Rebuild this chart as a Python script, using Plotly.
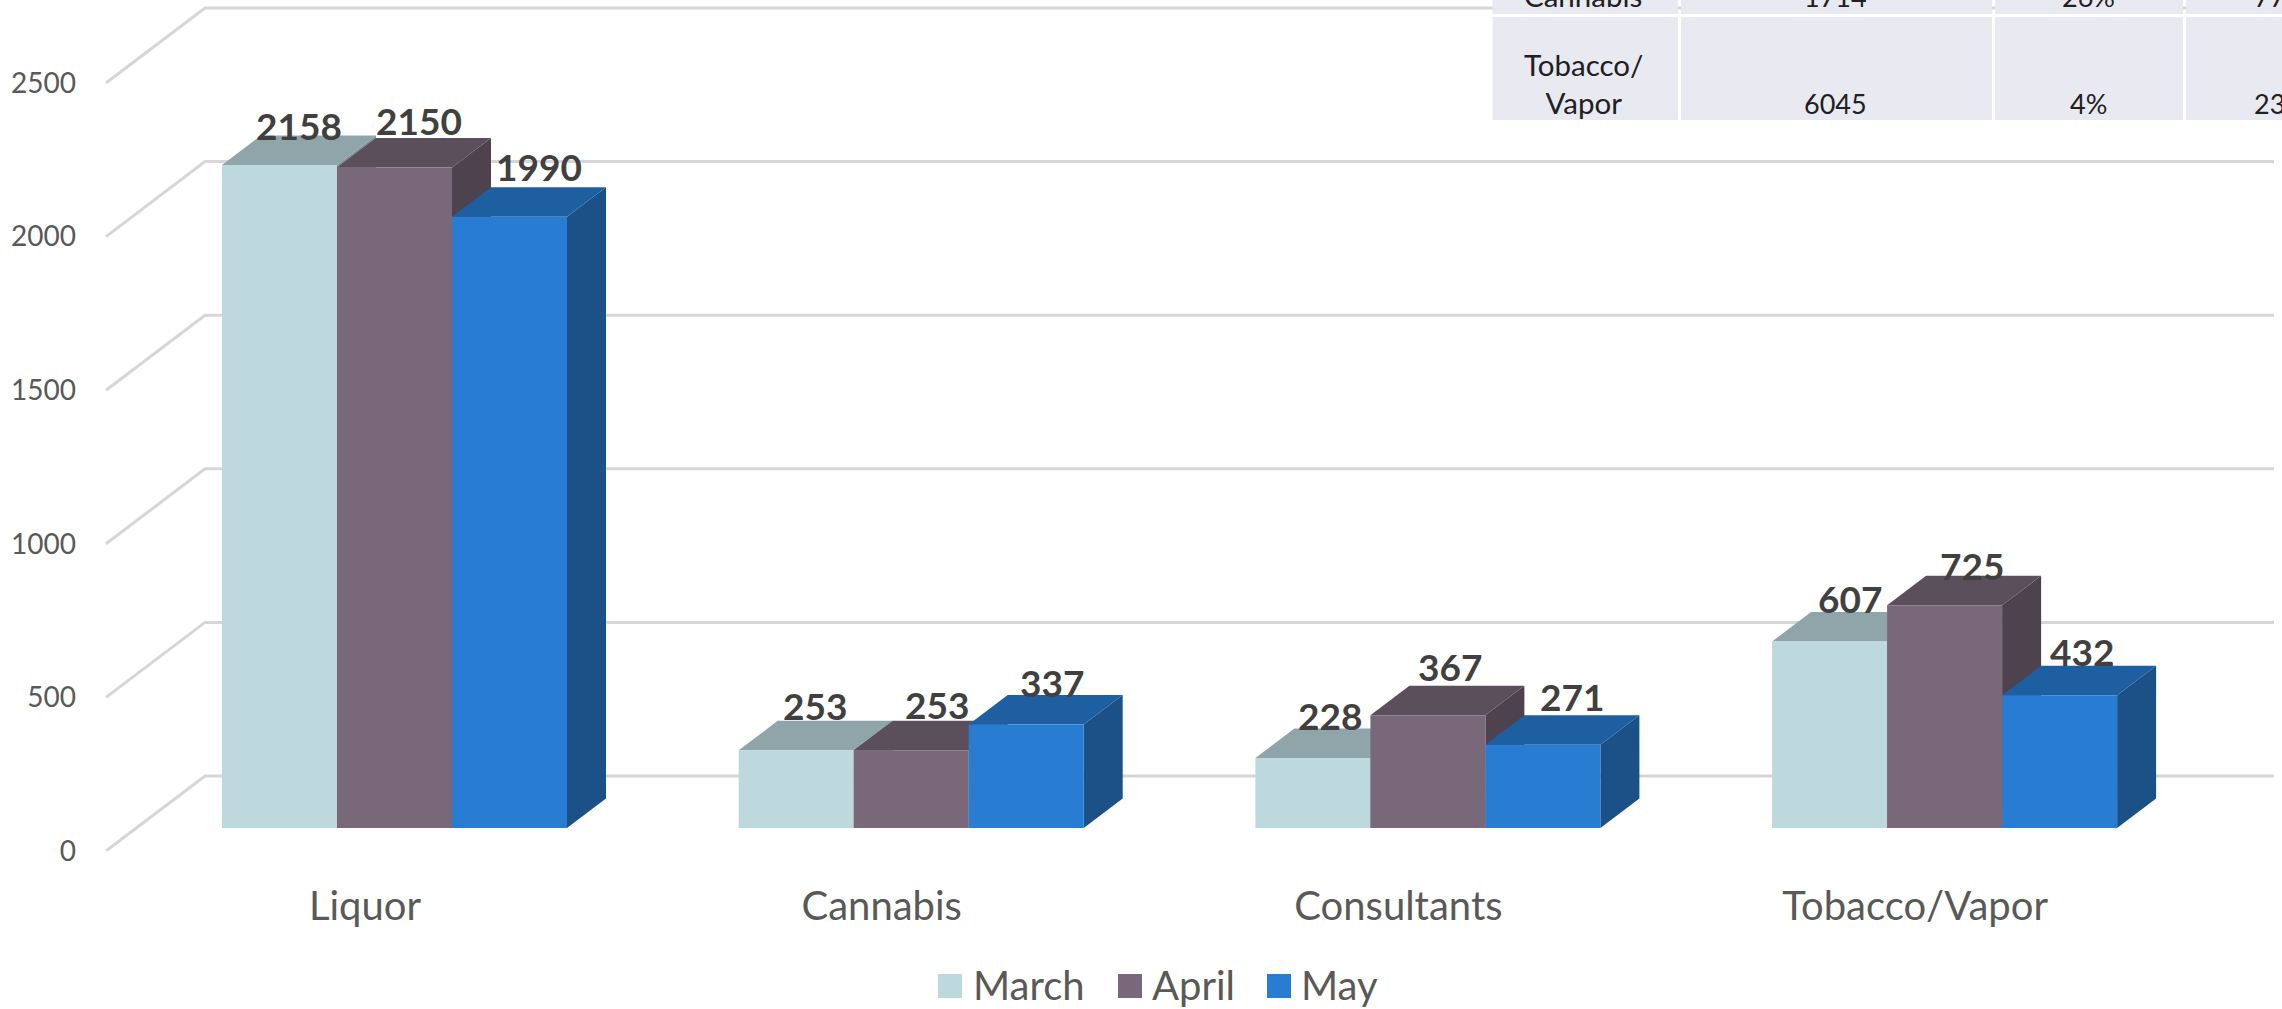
import plotly.graph_objects as go

categories = ["Liquor", "Cannabis", "Consultants", "Tobacco/Vapor"]
series_names = ["March", "April", "May"]
march = [2158, 253, 228, 607]
april = [2150, 253, 367, 725]
may = [1990, 337, 271, 432]
series_values = [march, april, may]
y_ticks = [0, 500, 1000, 1500, 2000, 2500]

table_row_cannabis = ["Cannabis", "1714", "26%", "77%"]
table_row_tobacco = ["Tobacco/<br>Vapor", "6045", "4%", "23%"]

FRONT = ["#BDD9DD", "#78687A", "#287DD3"]
TOP = ["#90A5A9", "#5B4F5C", "#1E5FA1"]
SIDE = ["#7F9296", "#4E424E", "#1B5187"]
FONT = "Lato"
GREY = "#595959"
DARK = "#404040"
INK = "#202020"

W, H = 2282, 1009
ML, MB = 79, 158
PLOT_H = H - MB
PX_PER_UNIT = 0.3072
PX_PER_CAT = 516.7
CAT0_PX = 365.0

def xd(px):
    return (px - CAT0_PX) / PX_PER_CAT

def yd_len(px):
    return px / PX_PER_UNIT

bar_w = 115 / PX_PER_CAT
bar_shift = 29.5 / PX_PER_CAT
depth_x = 39 / PX_PER_CAT
depth_y = yd_len(29.5)
bar_base = yd_len(23)
wall_dy = yd_len(75)

label_nudge_x = [[19.5, 24.5, 29.5], [19, 26, 26], [17, 22, 29], [20, 27, 22]]
label_nudge_y = [[40, 47.5, 50], [45, 46, 41.5], [42, 49, 48], [43.5, 40, 44]]

fig = go.Figure()

for t in y_ticks:
    fig.add_trace(go.Scatter(
        x=[xd(106), xd(205), xd(2274)], y=[t, t + wall_dy, t + wall_dy],
        mode="lines", line=dict(color="#D6D6D6", width=3),
        hoverinfo="skip", showlegend=False, zorder=0))

for s, (name, vals) in enumerate(zip(series_names, series_values)):
    z = 1 + s * 2
    off = (s - 1.5) * bar_w
    for c, v in enumerate(vals):
        left = c + bar_shift + off
        right = left + bar_w
        top = bar_base + v
        fig.add_trace(go.Scatter(
            x=[right, right + depth_x, right + depth_x, right, right],
            y=[bar_base, bar_base + depth_y, top + depth_y, top, bar_base],
            mode="lines", fill="toself", fillcolor=SIDE[s], line=dict(width=0),
            hoverinfo="skip", showlegend=False, zorder=z))
        fig.add_trace(go.Scatter(
            x=[left, left + depth_x, right + depth_x, right, left],
            y=[top, top + depth_y, top + depth_y, top, top],
            mode="lines", fill="toself", fillcolor=TOP[s], line=dict(width=0),
            hoverinfo="skip", showlegend=False, zorder=z))
    fig.add_trace(go.Bar(
        name=name,
        x=[c + bar_shift for c in range(len(categories))],
        y=vals, base=bar_base, width=bar_w, offset=off,
        marker=dict(color=FRONT[s], line=dict(width=0)),
        customdata=categories,
        hovertemplate="%{customdata}<br>" + name + ": %{y}<extra></extra>",
        showlegend=False, zorder=z + 1))

annotations = []
for s, vals in enumerate(series_values):
    for c, v in enumerate(vals):
        annotations.append(dict(
            x=c + bar_shift + (s - 1) * bar_w, y=bar_base + v, xref="x", yref="y",
            text=str(v), showarrow=False, xanchor="center", yanchor="middle",
            xshift=label_nudge_x[c][s], yshift=label_nudge_y[c][s],
            font=dict(family=FONT, size=37, color=DARK, weight="bold")))

def pxx(px):
    return (px - ML) / (W - ML)

def pxy(px):
    return (PLOT_H - px) / PLOT_H

shapes = []
col_edges = [(1492.5, 1678), (1681, 1992), (1995, 2183), (2186, 2290)]
row_edges = [(-20, 14), (17, 120)]
for (x0, x1) in col_edges:
    for (y0, y1) in row_edges:
        shapes.append(dict(type="rect", xref="paper", yref="paper", layer="above",
                           x0=pxx(x0), x1=pxx(x1), y0=pxy(y1), y1=pxy(y0),
                           fillcolor="#E9E9F1", line=dict(width=0)))

col_centers = [1583, 1835, 2088]
col_sizes = [29.5, 27, 27]
for row, bottom in ((table_row_cannabis, 15), (table_row_tobacco, 121.5)):
    for txt, cx, fs in zip(row[:3], col_centers, col_sizes):
        annotations.append(dict(x=pxx(cx), y=pxy(bottom), xref="paper", yref="paper", text=txt,
                                showarrow=False, xanchor="center", yanchor="bottom",
                                font=dict(family=FONT, size=fs, color=INK)))
    annotations.append(dict(x=pxx(2252), y=pxy(bottom), xref="paper", yref="paper", text=row[3],
                            showarrow=False, xanchor="left", yanchor="bottom",
                            font=dict(family=FONT, size=27, color=INK)))

legend_sq = [938, 1118, 1267]
legend_tx = [971, 1150, 1299]
for s, name in enumerate(series_names):
    shapes.append(dict(type="rect", xref="paper", yref="paper", layer="above",
                       x0=pxx(legend_sq[s]), x1=pxx(legend_sq[s] + 24), y0=pxy(998), y1=pxy(974),
                       fillcolor=FRONT[s], line=dict(width=0)))
    annotations.append(dict(x=pxx(legend_tx[s]), y=pxy(985), xref="paper", yref="paper", text=name,
                            showarrow=False, xanchor="left", yanchor="middle",
                            font=dict(family=FONT, size=40, color=GREY)))

fig.update_layout(
    width=W, height=H, autosize=False,
    margin=dict(l=ML, r=0, t=0, b=MB, pad=0),
    paper_bgcolor="white", plot_bgcolor="white",
    barmode="overlay", showlegend=False,
    shapes=shapes, annotations=annotations,
    xaxis=dict(range=[xd(ML), xd(W)], tickmode="array", tickvals=list(range(len(categories))),
               ticktext=categories, showgrid=False, zeroline=False, showline=False,
               ticks="", ticklabelstandoff=28,
               tickfont=dict(family=FONT, size=40, color=GREY)),
    yaxis=dict(range=[0, PLOT_H / PX_PER_UNIT], tickmode="array", tickvals=y_ticks,
               showgrid=False, zeroline=False, showline=False, ticks="",
               ticklabelstandoff=2,
               tickfont=dict(family=FONT, size=28, color=GREY)),
)

fig.write_html("out.html", config={"displayModeBar": False},
               post_script="document.body.style.margin='0';document.documentElement.style.overflow='hidden';")
